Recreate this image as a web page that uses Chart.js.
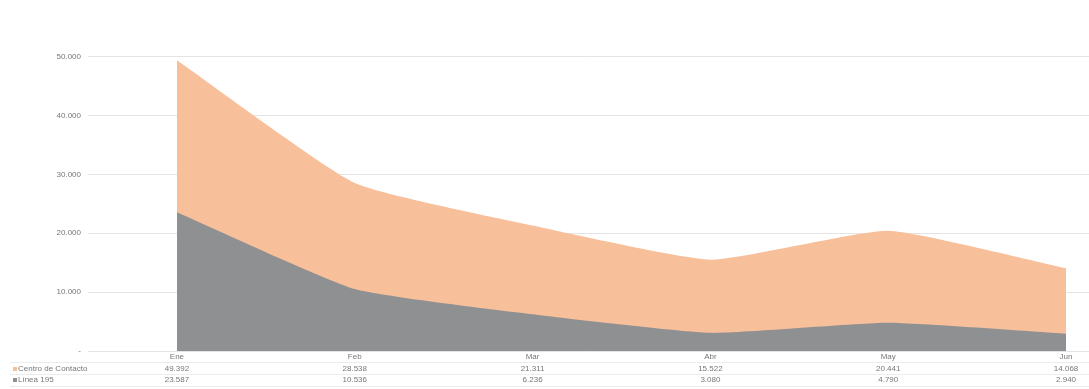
<!DOCTYPE html>
<html><head><meta charset="utf-8">
<script src="https://cdn.jsdelivr.net/npm/chart.js@4/dist/chart.umd.min.js"></script>
<style>
html,body{margin:0;padding:0;background:#fff;overflow:hidden;width:1089px;height:389px;}
#wrap{position:absolute;left:0;top:-14px;width:1089px;height:403px;}
</style></head>
<body>
<div id="wrap"><canvas id="c"></canvas></div>
<script>
const categories = ['Ene','Feb','Mar','Abr','May','Jun'];
const seriesNames = ['Centro de Contacto','Línea 195'];
const centroContacto = [49392, 28538, 21311, 15522, 20441, 14068];
const linea195 = [23587, 10536, 6236, 3080, 4790, 2940];
const yTicks = [0, 10000, 20000, 30000, 40000, 50000, 60000];
const colors = ['#f8bf9b', '#8e9092'];

const fmt = v => v === 0 ? '-' : v.toLocaleString('de-DE');

const tablePlugin = {
  id: 'dataTable',
  afterDraw(chart) {
    const ctx = chart.ctx, xs = chart.scales.x;
    const rows = [centroContacto, linea195];
    const rowY = [383, 394];
    ctx.save();
    ctx.strokeStyle = '#ececec';
    ctx.lineWidth = 1;
    [376.5, 388.5, 400.5].forEach(y => {
      ctx.beginPath(); ctx.moveTo(10, y); ctx.lineTo(1089, y); ctx.stroke();
    });
    ctx.font = '8px "Liberation Sans", Arial, sans-serif';
    ctx.textBaseline = 'middle';
    rows.forEach((vals, r) => {
      ctx.fillStyle = colors[r];
      ctx.fillRect(13, rowY[r] - 2, 4, 4);
      ctx.fillStyle = '#777';
      ctx.textAlign = 'left';
      ctx.fillText(seriesNames[r], 18, rowY[r]);
      ctx.textAlign = 'center';
      vals.forEach((v, i) => ctx.fillText(fmt(v), xs.getPixelForValue(i), rowY[r]));
    });
    ctx.restore();
  }
};

new Chart(document.getElementById('c'), {
  type: 'line',
  data: {
    datasets: [
      { label: seriesNames[1], data: linea195.map((v, i) => ({x: i, y: v})),
        backgroundColor: colors[1], borderColor: colors[1], borderWidth: 0,
        fill: 'origin', pointRadius: 0, tension: 0.15 },
      { label: seriesNames[0], data: centroContacto.map((v, i) => ({x: i, y: v})),
        backgroundColor: colors[0], borderColor: colors[0], borderWidth: 0,
        fill: 'origin', pointRadius: 0, tension: 0.15 }
    ]
  },
  options: {
    animation: false,
    responsive: true,
    maintainAspectRatio: false,
    layout: { padding: 0 },
    plugins: { legend: { display: false }, tooltip: { enabled: false } },
    scales: {
      x: {
        type: 'linear', min: -0.5, max: 5.129,
        afterBuildTicks: s => { s.ticks = categories.map((_, i) => ({ value: i })); },
        afterFit: s => { s.height = 38; },
        grid: { display: false, drawTicks: false },
        border: { display: false },
        ticks: {
          autoSkip: false, maxRotation: 0, padding: 1,
          color: '#777', font: { size: 8, family: '"Liberation Sans", Arial, sans-serif' },
          callback: v => categories[v] ?? ''
        }
      },
      y: {
        min: 0, max: 60000,
        afterBuildTicks: s => { s.ticks = yTicks.map(v => ({ value: v })); },
        afterFit: s => { s.width = 88; },
        grid: { color: '#e4e4e4', lineWidth: 1, drawTicks: false },
        border: { display: false },
        ticks: {
          padding: 7, color: '#777',
          font: { size: 8, family: '"Liberation Sans", Arial, sans-serif' },
          callback: v => fmt(v)
        }
      }
    }
  },
  plugins: [tablePlugin]
});
</script>
</body></html>
